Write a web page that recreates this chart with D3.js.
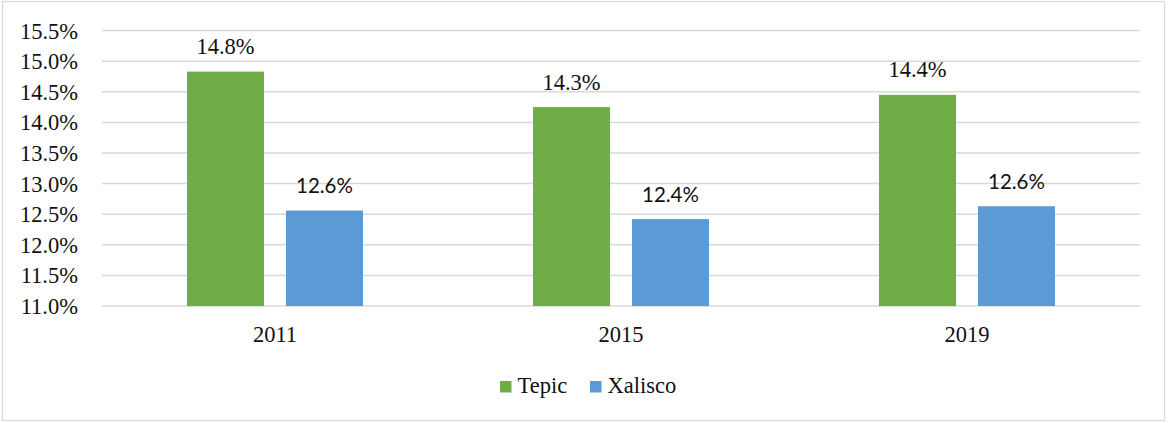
<!DOCTYPE html>
<html>
<head>
<meta charset="utf-8">
<script src="https://cdn.jsdelivr.net/npm/d3@7"></script>
<style>
  body { margin: 0; background: #fff; }
  .serif { font-family: "Liberation Serif", "Times New Roman", serif; }
  .sans { font-family: Lato, "Noto Sans", sans-serif; }
</style>
</head>
<body>
<div id="graphique"></div>
<script>
var annees = ["2011", "2015", "2019"];
var series = ["Tepic", "Xalisco"];
var valeursTepic = [14.83, 14.25, 14.45];
var valeursXalisco = [12.56, 12.42, 12.63];
var etiquettesTepic = ["14.8%", "14.3%", "14.4%"];
var etiquettesXalisco = ["12.6%", "12.4%", "12.6%"];
var graduations = [11.0, 11.5, 12.0, 12.5, 13.0, 13.5, 14.0, 14.5, 15.0, 15.5];
var couleurs = ["#70AD47", "#5B9BD5"];

var largeur = 1168, hauteur = 423;
var gauche = 102, droite = 1140, haut = 30.6, bas = 306;

var svg = d3.select("#graphique").append("svg")
    .attr("width", largeur).attr("height", hauteur);

// cadre
svg.append("rect")
    .attr("x", 2.5).attr("y", 1.5)
    .attr("width", 1162).attr("height", 419)
    .attr("fill", "white").attr("stroke", "#d9d9d9").attr("stroke-width", 1.2);

var x = d3.scaleBand().domain(annees).range([gauche, droite]);
var xSerie = d3.scaleBand().domain(series)
    .range([0, x.bandwidth()]).paddingOuter(0.859).paddingInner(0.222);
var y = d3.scaleLinear().domain([11, 15.5]).range([bas, haut]);

// lignes de grille
svg.append("g").selectAll("line")
    .data(graduations)
    .enter().append("line")
    .attr("x1", gauche).attr("x2", droite)
    .attr("y1", d => y(d)).attr("y2", d => y(d))
    .attr("stroke", "#d9d9d9").attr("stroke-width", 1.5);

// axe Y
var axeY = d3.axisLeft(y).tickValues(graduations)
    .tickFormat(d => d.toFixed(1) + "%").tickSize(0).tickPadding(0);
svg.append("g")
    .attr("transform", "translate(78,0)")
    .call(axeY)
    .call(g => g.select(".domain").remove())
    .attr("font-family", null).attr("font-size", null)
    .selectAll("text")
    .attr("class", "serif")
    .style("font-size", "22.5px").attr("fill", "#111")
    .attr("dy", "0.33em");

// axe X
var axeX = d3.axisBottom(x).tickSize(0).tickPadding(0);
svg.append("g")
    .attr("transform", "translate(0," + bas + ")")
    .call(axeX)
    .call(g => g.select(".domain").remove())
    .attr("font-family", null).attr("font-size", null)
    .selectAll("text")
    .attr("class", "serif")
    .style("font-size", "22.5px").attr("fill", "#111")
    .attr("y", 36).attr("dy", 0);

var donnees = [valeursTepic, valeursXalisco];
var etiquettes = [etiquettesTepic, etiquettesXalisco];
var classesEtiquettes = ["serif", "sans"];
var taillesEtiquettes = ["22.5px", "20.5px"];

for (var s = 0; s < series.length; s++) {
    for (var i = 0; i < annees.length; i++) {
        var bx = x(annees[i]) + xSerie(series[s]);
        svg.append("rect")
            .attr("x", bx)
            .attr("y", y(donnees[s][i]))
            .attr("width", xSerie.bandwidth())
            .attr("height", bas - y(donnees[s][i]))
            .attr("fill", couleurs[s]);
        svg.append("text")
            .attr("class", classesEtiquettes[s])
            .attr("x", bx + xSerie.bandwidth() / 2)
            .attr("y", y(donnees[s][i]) - 17.5)
            .attr("text-anchor", "middle")
            .style("font-size", taillesEtiquettes[s]).attr("fill", "#111")
            .text(etiquettes[s][i]);
    }
}

// legende
var legende = svg.append("g").attr("transform", "translate(500,381)");
var posLegende = [0, 90];
series.forEach(function(nom, k) {
    legende.append("rect")
        .attr("x", posLegende[k]).attr("y", 0)
        .attr("width", 11.5).attr("height", 11.5)
        .attr("fill", couleurs[k]);
    legende.append("text")
        .attr("class", "serif")
        .attr("x", posLegende[k] + 17.5).attr("y", 12)
        .style("font-size", "22.5px").attr("fill", "#111")
        .text(nom);
});
</script>
</body>
</html>
